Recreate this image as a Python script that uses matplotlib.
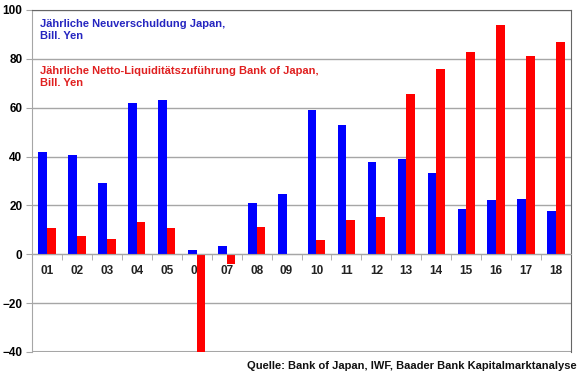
import numpy as np
import matplotlib.pyplot as plt

plt.rcParams['font.family'] = ['Liberation Sans', 'DejaVu Sans']
plt.rcParams['font.weight'] = 'bold'

# Jahre 2001-2018
years = ['01', '02', '03', '04', '05', '06', '07', '08', '09',
         '10', '11', '12', '13', '14', '15', '16', '17', '18']
# Jaehrliche Neuverschuldung Japan, Bill. Yen
debt = [41.8, 40.5, 29.0, 61.9, 63.1, 1.9, 3.4, 20.8, 24.8,
        58.9, 53.0, 37.7, 39.0, 33.4, 18.4, 22.3, 22.6, 17.7]
# Jaehrliche Netto-Liquiditaetszufuehrung Bank of Japan, Bill. Yen
boj = [10.6, 7.5, 6.3, 13.1, 10.9, -45.0, -4.1, 11.2, 0.0,
       5.9, 14.2, 15.2, 65.7, 76.0, 82.9, 93.7, 81.0, 86.8]

x = np.arange(len(years))
w = 0.29

fig = plt.figure(figsize=(5.8, 3.75), dpi=100)
ax = fig.add_axes([32 / 580, 1 - 352 / 375, 539 / 580, 342 / 375])

ax.bar(x - w / 2, debt, w, color='#0000FF', zorder=2)
ax.bar(x + w / 2, boj, w, color='#FF0000', zorder=2)

ax.set_xlim(-0.5, len(years) - 0.5)
ax.set_ylim(-40, 100)
ax.set_yticks(np.arange(-40, 101, 20))
ax.set_axisbelow(True)
ax.yaxis.grid(True, color='#A6A6A6', linewidth=1)
ax.axhline(-40, color='#A6A6A6', linewidth=1.5, zorder=0.4)

# x-Achse bei Null, Teilstriche zwischen den Jahren
ax.spines['bottom'].set_position(('data', 0))
ax.spines['bottom'].set_color('#A6A6A6')
ax.spines['left'].set_color('#A6A6A6')
ax.spines['top'].set_color('#666666')
ax.spines['right'].set_color('#666666')
ax.set_xticks(x)
ax.set_xticklabels(years)
ax.set_xticks(np.arange(-0.5, len(years), 1), minor=True)
ax.tick_params(axis='x', which='major', length=0, pad=8, labelsize=8.5, labelcolor='#222222')
ax.tick_params(axis='x', which='minor', length=4, color='#A6A6A6', direction='out')
ax.tick_params(axis='y', length=4, color='#A6A6A6', labelsize=8.5, pad=3)

ax.text(0.014, 0.973, 'Jährliche Neuverschuldung Japan,\nBill. Yen',
        transform=ax.transAxes, color='#2525C0', fontsize=8, fontweight='bold',
        va='top', ha='left', linespacing=1.25)
ax.text(0.014, 0.835, 'Jährliche Netto-Liquiditätszuführung Bank of Japan,\nBill. Yen',
        transform=ax.transAxes, color='#E02020', fontsize=8, fontweight='bold',
        va='top', ha='left', linespacing=1.25)

fig.text(577 / 580, 1 - 366 / 375, 'Quelle: Bank of Japan, IWF, Baader Bank Kapitalmarktanalyse',
         ha='right', va='center', fontsize=8, fontweight='bold', color='#111111')

fig.savefig('out.png', dpi=100)
